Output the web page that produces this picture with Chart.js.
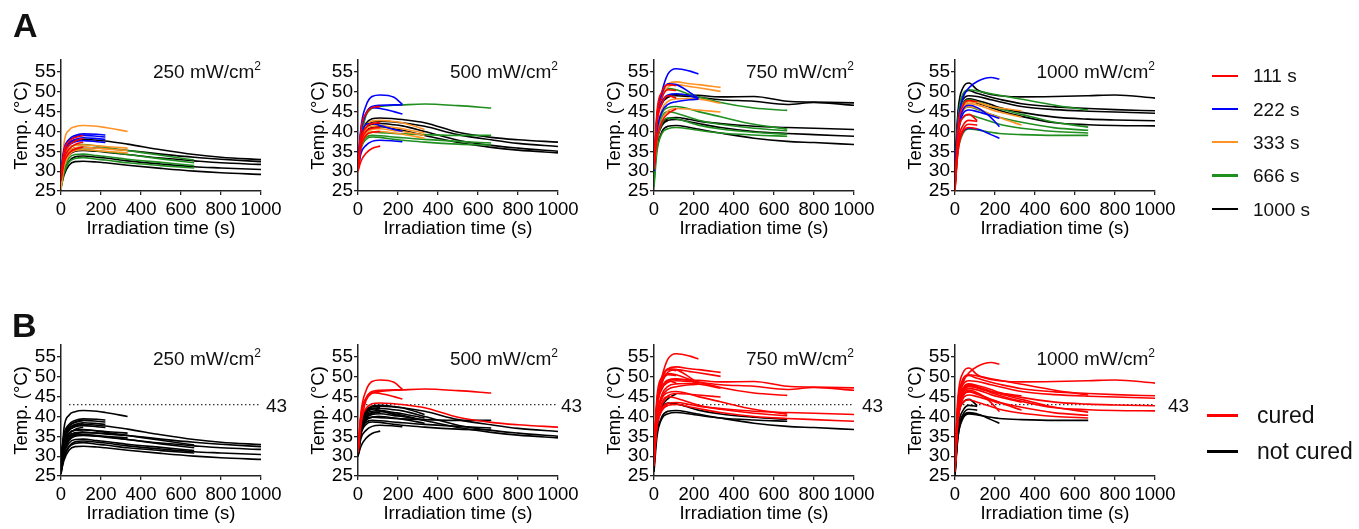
<!DOCTYPE html>
<html>
<head>
<meta charset="utf-8">
<script src="https://cdn.jsdelivr.net/npm/chart.js@4.4.1/dist/chart.umd.min.js"></script>
<style>
html,body{margin:0;padding:0;background:#fff;overflow:hidden;width:1359px;height:529px;}
body{position:relative;font-family:"Liberation Sans",Arial,Helvetica,sans-serif;color:#111;}
canvas{position:absolute;}
.txt{position:absolute;white-space:nowrap;}
.ptitle{font-size:19px;line-height:19px;text-align:right;width:200px;}
.ptitle sup{font-size:12px;position:relative;top:-8px;vertical-align:baseline;line-height:0;}
.big{font-weight:bold;font-size:34px;line-height:34px;}
.thr{font-size:19px;line-height:19px;}
.lgA{font-size:19px;line-height:19px;}
.lgB{font-size:23px;line-height:23px;}
.sw{position:absolute;}
</style>
</head>
<body>
<script>
// ---------------- DATA ----------------
// sample times (s); a curve stops at its irradiation duration
const TIMES = [0, 15, 40, 70, 111, 180, 222, 333, 500, 666, 800, 1000];
const X_TICKS = [0, 200, 400, 600, 800, 1000];
const Y_TICKS = [25, 30, 35, 40, 45, 50, 55];
const DURATIONS = ['111 s', '222 s', '333 s', '666 s', '1000 s'];
const POWERS = ['250', '500', '750', '1000'];
const CURE_LABELS = ['cured', 'not cured'];
const THRESHOLD = 43;
const THRESHOLD_RANGE = [40, 990];

// 250 mW/cm2
const P250_111 = [
  [29, 35, 37.5, 38.5, 39.0],
  [28.5, 34, 36.5, 37.6, 38.2],
  [28, 33, 35.5, 36.7, 37.3],
  [27.5, 32, 34.5, 35.5, 36.1]];
const P250_222 = [
  [30, 35.5, 38, 39, 39.4, 39.3, 39.1],
  [29.5, 35, 37.6, 38.6, 39.0, 38.8, 38.6],
  [29, 34.5, 37, 38.0, 38.4, 38.2, 38.0],
  [28.5, 34, 36.5, 37.4, 37.7, 37.4, 37.2]];
const P250_333 = [
  [26, 37, 40.3, 41.2, 41.5, 41.3, 41.0, 40.0],
  [27, 33.5, 35.8, 36.5, 36.6, 36.4, 36.2, 35.8],
  [26.5, 32.5, 35, 35.9, 36.0, 35.8, 35.6, 35.2],
  [25.5, 31, 34, 35.2, 35.4, 35.2, 35.0, 34.6]];
const P250_666 = [
  [27, 33, 35.8, 36.6, 36.7, 36.3, 36.0, 35.2, 34.0, 32.8],
  [26.5, 31.5, 34.5, 35.4, 35.5, 35.1, 34.9, 34.2, 33.1, 32.1],
  [26, 30.5, 33.3, 34.2, 34.3, 33.9, 33.7, 33.0, 32.2, 31.4],
  [25.5, 29.5, 32.3, 33.2, 33.4, 33.0, 32.8, 32.1, 31.4, 30.8]];
const P250_1000 = [
  [28, 34.5, 37, 37.8, 38.0, 37.8, 37.6, 36.8, 35.4, 34.2, 33.5, 32.9],
  [27.5, 32.5, 35, 35.8, 36.0, 35.8, 35.7, 35.2, 34.3, 33.5, 33.0, 32.4],
  [27, 31.5, 34, 35.0, 35.2, 35.0, 34.8, 34.2, 33.3, 32.6, 32.1, 31.7],
  [26.5, 30, 32.5, 33.6, 33.8, 33.5, 33.3, 32.6, 31.8, 31.1, 30.8, 30.4],
  [26, 29, 31.5, 32.4, 32.5, 32.3, 32.1, 31.5, 30.7, 30.0, 29.6, 29.2]];
const P250_CURED = [[0,0,0,0],[0,0,0,0],[0,0,0,0],[0,0,0,0],[0,0,0,0,0]];

// 500 mW/cm2
const P500_111 = [
  [30, 32.5, 34.5, 35.7, 36.3],
  [31, 40.5, 44.5, 46.0, 46.3],
  [31, 38, 41, 42, 42.2],
  [30.5, 37, 40, 40.8, 41.0],
  [30, 36, 39, 39.8, 40.0]];
const P500_222 = [
  [31, 41, 46.5, 48.8, 49.2, 48.6, 46.8],
  [32, 40, 44.5, 46.3, 46.6, 46.7, 46.7],
  [31, 40, 44.5, 46.0, 45.8, 45.0, 44.4],
  [32, 38, 41.8, 42.0, 41.5, 40.5, 40.0],
  [30.5, 34.5, 36.5, 37.5, 37.8, 37.6, 37.4]];
const P500_333 = [
  [31, 38, 41.5, 42.6, 42.8, 42.5, 42.2, 40.5],
  [30.5, 37, 40.5, 41.3, 41.5, 41.0, 40.7, 39.6],
  [30.5, 36.5, 39.5, 40.5, 40.7, 40.2, 40.0, 39.0],
  [30, 36, 39, 39.8, 40.0, 39.6, 39.3, 38.3]];
const P500_666 = [
  [31, 38, 44, 45.8, 46.3, 46.6, 46.7, 46.9, 46.5, 45.9],
  [31, 37, 39.5, 39.8, 39.7, 39.5, 39.4, 39.2, 39.0, 39.0],
  [30.5, 36, 38.5, 39.0, 38.9, 38.6, 38.4, 38.0, 37.5, 37.1],
  [30, 35.5, 38, 38.6, 38.5, 38.0, 37.8, 37.3, 36.8, 36.6]];
const P500_1000 = [
  [31, 38.5, 42, 43.2, 43.4, 43.2, 43.0, 42.2, 39.8, 38.5, 37.9, 37.3],
  [31, 38, 41.5, 42.4, 42.6, 42.4, 42.2, 41.3, 39.2, 37.9, 37.0, 36.2],
  [30.5, 37.5, 40.8, 41.8, 42.0, 41.7, 41.4, 40.0, 37.8, 36.5, 35.8, 35.0],
  [30.5, 37, 40, 41.0, 41.2, 40.7, 40.3, 39.0, 37.2, 36.0, 35.3, 34.6]];
const P500_CURED = [[0,1,0,0,0],[1,1,1,0,0],[0,0,0,0],[1,0,0,0],[1,0,0,0]];

// 750 mW/cm2
const P750_111 = [
  [31, 45, 50, 51.8, 51.5],
  [30.5, 43.5, 48.5, 50.5, 50.3],
  [31, 42, 47, 49.0, 48.4],
  [30.5, 38, 42.5, 44.5, 45.7]];
const P750_222 = [
  [30, 43, 50, 54.5, 55.8, 55.2, 54.5],
  [31, 44, 49.5, 52, 51.8, 49.8, 48.3],
  [31, 43, 47.5, 49.2, 49.5, 49.0, 48.2],
  [30, 40, 45, 46.8, 47.5, 48.0, 48.1]];
const P750_333 = [
  [31, 43, 49.5, 52.0, 52.5, 52.0, 51.8, 51.1],
  [31, 42, 48.5, 51.2, 51.8, 51.3, 51.0, 50.1],
  [30.5, 40, 45.5, 47.6, 48.2, 48.3, 48.2, 47.1],
  [30, 38, 43, 45.2, 45.8, 45.6, 45.4, 44.9]];
const P750_666 = [
  [29, 42, 49, 50.8, 50.5, 49.3, 48.7, 47.3, 45.9, 45.3],
  [28, 39, 44.5, 46.0, 46.3, 45.6, 45.0, 43.7, 41.8, 40.6],
  [27.5, 38, 43.5, 45.0, 44.6, 43.5, 42.8, 41.8, 40.8, 40.2],
  [27, 37, 42, 43.4, 43.2, 42.2, 41.6, 40.6, 39.8, 39.3],
  [26, 35, 39.5, 40.7, 41.0, 40.6, 40.3, 39.6, 39.1, 38.8]];
const P750_1000 = [
  [31, 43, 47.5, 49.0, 49.3, 49.2, 49.1, 48.7, 48.8, 47.6, 47.4, 47.2],
  [31, 42.5, 47, 48.6, 49.0, 48.8, 48.6, 48.0, 47.6, 46.8, 47.3, 46.6],
  [30, 38, 42, 43.3, 43.5, 43.0, 42.6, 42.0, 41.3, 41.0, 40.8, 40.5],
  [30, 37.5, 41.5, 42.8, 43.0, 42.4, 42.0, 41.0, 40.0, 39.5, 39.2, 38.8],
  [29.5, 36, 40, 41.3, 41.5, 41.0, 40.6, 39.6, 38.3, 37.5, 37.2, 36.7]];
const P750_CURED = [[1,1,1,0],[1,1,1,1],[1,1,1,1],[1,1,1,0,0],[1,1,1,1,0]];

// 1000 mW/cm2
const P1000_111 = [
  [26, 41, 46.5, 47.8, 47.5],
  [26, 39, 43.5, 44.3, 42.7],
  [25.5, 37, 41.5, 42.8, 42.5],
  [25.5, 36, 40.5, 41.8, 41.6],
  [25, 35, 40, 41.0, 40.7]];
const P1000_222 = [
  [30, 42, 48.5, 51, 52.6, 53.6, 53.2],
  [28, 40, 45.5, 46.6, 46.0, 43.5, 41.2],
  [28, 39, 44.5, 45.4, 45.0, 44.0, 43.3],
  [27, 36, 40.0, 40.8, 40.6, 39.2, 38.3]];
const P1000_333 = [
  [27, 41, 46.5, 47.5, 47.3, 46.3, 45.9, 45.2],
  [27, 40.5, 46, 47.0, 46.7, 45.5, 44.9, 43.6],
  [26.5, 40, 45, 46.3, 45.8, 44.3, 43.5, 41.6]];
const P1000_666 = [
  [28, 43, 49.5, 50.5, 50.2, 49.5, 49.1, 48.1, 46.6, 45.4],
  [27, 42, 47, 48.0, 47.5, 46.3, 45.7, 44.3, 42.3, 41.1],
  [27, 41, 45.5, 46.2, 45.6, 44.3, 43.6, 42.3, 40.9, 40.3],
  [26.5, 39, 43.5, 44.2, 43.6, 42.5, 41.8, 40.8, 40.0, 39.6],
  [26, 35, 39.5, 40.6, 40.4, 39.8, 39.5, 39.2, 39.0, 39.0]];
const P1000_1000 = [
  [30, 45, 51, 52.2, 50.5, 49.3, 49.0, 48.7, 48.8, 49.0, 49.2, 48.4],
  [29, 44, 49, 50.3, 49.6, 48.6, 48.1, 47.0, 46.2, 45.8, 45.5, 45.2],
  [29, 43, 48, 49.0, 48.8, 48.0, 47.5, 46.3, 45.5, 45.1, 44.9, 44.6],
  [28, 42, 47, 48.2, 47.8, 46.8, 46.0, 44.8, 43.6, 43.1, 42.9, 42.7],
  [28, 41, 46.5, 47.6, 47.2, 46.0, 45.3, 43.8, 42.2, 41.7, 41.5, 41.4]];
const P1000_CURED = [[1,0,0,0,0],[1,1,1,0],[1,1,1],[1,1,1,1,0],[1,1,1,1,1]];

// ---------------- STYLE / LAYOUT ----------------
const FONT = '"Liberation Sans", Arial, Helvetica, sans-serif';
const DUR_COLORS = ['#ff0000', '#0000ff', '#ff9326', '#1f8f1f', '#000000'];
const DUR_ORDER = [0, 1, 2, 3, 4];
const CURE_COLORS = ['#ff0000', '#000000'];
Chart.defaults.font.family = FONT;

const GROUPS = {
  '250': [P250_111, P250_222, P250_333, P250_666, P250_1000],
  '500': [P500_111, P500_222, P500_333, P500_666, P500_1000],
  '750': [P750_111, P750_222, P750_333, P750_666, P750_1000],
  '1000': [P1000_111, P1000_222, P1000_333, P1000_666, P1000_1000]
};
const CURED = {'250': P250_CURED, '500': P500_CURED, '750': P750_CURED, '1000': P1000_CURED};

const AXIS_X = [61, 358, 654, 955];
const ROWS = [
  {mode: 'A', plotTop: 60, titleY: 71},
  {mode: 'B', plotTop: 345, titleY: 358}
];
const THR_LABEL_X = [266, 561, 862, 1168];

function buildDatasets(power, mode) {
  const ds = [];
  GROUPS[power].forEach((curves, gi) => {
    curves.forEach((vals, ci) => {
      let color, order;
      if (mode === 'A') { color = DUR_COLORS[gi]; order = DUR_ORDER[gi]; }
      else { const c = CURED[power][gi][ci]; color = c ? CURE_COLORS[0] : CURE_COLORS[1]; order = c ? 0 : 1; }
      ds.push({
        data: vals.map((v, j) => ({x: TIMES[j], y: v})),
        borderColor: color, borderWidth: 1.6, pointRadius: 0, fill: false,
        cubicInterpolationMode: 'monotone', order: order
      });
    });
  });
  if (mode === 'B') {
    ds.push({
      data: THRESHOLD_RANGE.map(x => ({x: x, y: THRESHOLD})),
      borderColor: '#333', borderWidth: 1.2, borderDash: [1.5, 2.5],
      pointRadius: 0, fill: false, order: 10
    });
  }
  return ds;
}

function axisCommon() {
  return {
    type: 'linear',
    grid: {display: true, drawOnChartArea: false, drawTicks: true, tickLength: 4, color: '#222', lineWidth: 1.3},
    border: {display: true, color: '#222', width: 1.5}
  };
}

function makePanel(power, pi, row) {
  const cv = document.createElement('canvas');
  cv.width = 296; cv.height = 200;
  cv.style.left = (AXIS_X[pi] - 61) + 'px';
  cv.style.top = (row.plotTop - 20) + 'px';
  cv.style.width = '296px'; cv.style.height = '200px';
  document.body.appendChild(cv);
  new Chart(cv, {
    type: 'line',
    data: {datasets: buildDatasets(power, row.mode)},
    options: {
      responsive: false, animation: false, devicePixelRatio: 1, events: [],
      layout: {padding: {left: 0, top: 20, right: 35, bottom: 0}},
      plugins: {legend: {display: false}, tooltip: {enabled: false}, title: {display: false}},
      scales: {
        x: Object.assign(axisCommon(), {
          min: 0, max: 1000,
          afterBuildTicks: s => { s.ticks = X_TICKS.map(v => ({value: v})); },
          afterFit: s => { s.height = 49; },
          ticks: {font: {size: 18.5}, color: '#000', padding: 4, maxRotation: 0, autoSkip: false,
                  callback: v => String(v)},
          title: {display: true, text: 'Irradiation time (s)', font: {size: 18.5}, color: '#000', padding: 0}
        }),
        y: Object.assign(axisCommon(), {
          min: 25, max: 58,
          afterBuildTicks: s => { s.ticks = Y_TICKS.map(v => ({value: v})); },
          afterFit: s => { s.width = 61; },
          ticks: {font: {size: 19}, color: '#000', padding: 1, autoSkip: false, callback: v => String(v)},
          title: {display: true, text: 'Temp. (°C)', font: {size: 18.5}, color: '#000', padding: {top: 11, bottom: 0}}
        })
      }
    }
  });
  // panel title
  const t = document.createElement('div');
  t.className = 'txt ptitle';
  t.style.left = AXIS_X[pi] + 'px';
  t.style.top = (row.titleY - 9.3) + 'px';
  t.innerHTML = power + ' mW/cm<sup>2</sup>';
  document.body.appendChild(t);
  if (row.mode === 'B') {
    const l = document.createElement('div');
    l.className = 'txt thr';
    l.style.left = THR_LABEL_X[pi] + 'px';
    l.style.top = (row.plotTop + (58 - THRESHOLD) * 4 - 9.3) + 'px';
    l.textContent = String(THRESHOLD);
    document.body.appendChild(l);
  }
}

ROWS.forEach(row => POWERS.forEach((p, i) => makePanel(p, i, row)));

function addText(cls, txt, left, top) {
  const d = document.createElement('div');
  d.className = 'txt ' + cls; d.textContent = txt;
  d.style.left = left + 'px'; d.style.top = top + 'px';
  document.body.appendChild(d);
}
function addSwatch(color, left, top, w, h) {
  const d = document.createElement('div');
  d.className = 'sw';
  d.style.left = left + 'px'; d.style.top = top + 'px';
  d.style.width = w + 'px'; d.style.height = h + 'px'; d.style.background = color;
  document.body.appendChild(d);
}
addText('big', 'A', 13, 8);
addText('big', 'B', 12, 308);
DURATIONS.forEach((d, i) => {
  const cy = 75.7 + i * 33.3;
  addSwatch(DUR_COLORS[i], 1212, cy - 1.2, 26, 2.4);
  addText('lgA', d, 1253, cy - 9.3);
});
CURE_LABELS.forEach((d, i) => {
  const cy = 415.7 + i * 36;
  addSwatch(CURE_COLORS[i], 1207, cy - 1.4, 31, 2.8);
  addText('lgB', d, 1257, cy - 11.3);
});
</script>
</body>
</html>
